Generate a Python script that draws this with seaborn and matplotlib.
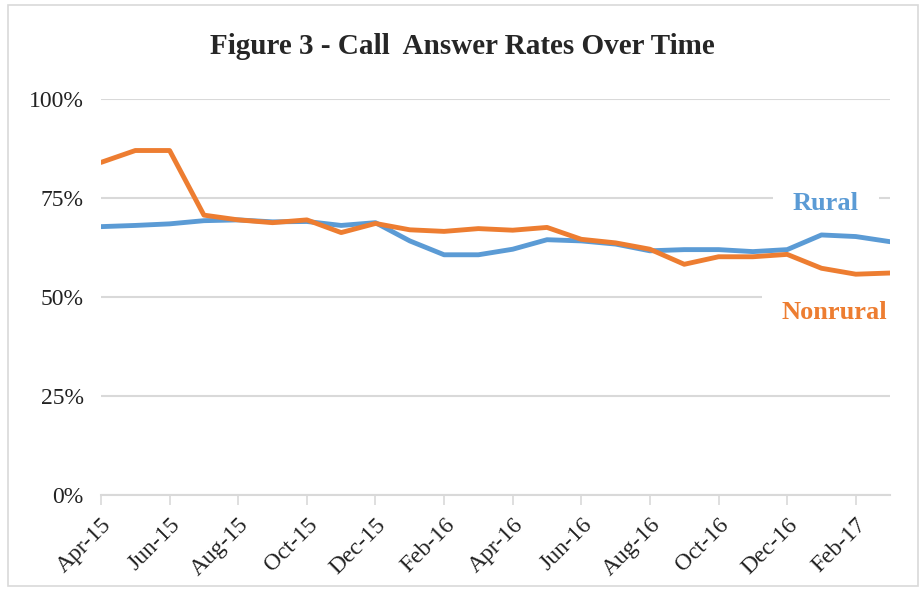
import numpy as np
import pandas as pd
import matplotlib
matplotlib.use("Agg")
import matplotlib.pyplot as plt
import seaborn as sns
from matplotlib.patches import Rectangle

months = ["Apr-15", "May-15", "Jun-15", "Jul-15", "Aug-15", "Sep-15", "Oct-15", "Nov-15",
          "Dec-15", "Jan-16", "Feb-16", "Mar-16", "Apr-16", "May-16", "Jun-16", "Jul-16",
          "Aug-16", "Sep-16", "Oct-16", "Nov-16", "Dec-16", "Jan-17", "Feb-17", "Mar-17"]
rural = [67.7, 68.0, 68.4, 69.2, 69.4, 68.9, 69.0, 68.0, 68.7, 64.1, 60.6, 60.6,
         62.0, 64.4, 64.1, 63.3, 61.6, 61.9, 61.9, 61.4, 61.9, 65.6, 65.2, 63.9]
nonrural = [83.9, 86.9, 86.9, 70.6, 69.4, 68.7, 69.4, 66.2, 68.5, 66.9, 66.5, 67.2,
            66.8, 67.5, 64.5, 63.6, 62.0, 58.2, 60.1, 60.1, 60.7, 57.2, 55.7, 56.0]
series_names = ["Rural", "Nonrural"]
colors = ["#5B9BD5", "#ED7D31"]
y_ticks = [0, 25, 50, 75, 100]

df = pd.DataFrame({
    "idx": list(range(len(months))) * 2,
    "rate": rural + nonrural,
    "group": ["Rural"] * len(months) + ["Nonrural"] * len(months),
})

sns.set_style("white")
plt.rcParams["font.family"] = ["Liberation Serif", "DejaVu Serif"]

fig = plt.figure(figsize=(9.24, 5.91), dpi=100)
ax = fig.add_axes([0.1093, 0.1624, 0.854, 0.6708])

sns.lineplot(data=df, x="idx", y="rate", hue="group", hue_order=series_names,
             palette=colors, linewidth=3.5, legend=False, ax=ax)

ax.set_xlim(0, len(months) - 1)
ax.set_ylim(0, 100)
ax.set_yticks(y_ticks)
ax.set_yticklabels([f"{v}%" for v in y_ticks], fontsize=17, color="#222222")
ax.set_xticks(list(range(0, len(months), 2)))
ax.set_xticklabels(months[::2], rotation=45, ha="right", rotation_mode="anchor",
                   fontsize=17, color="#222222")
ax.set_xlabel("")
ax.set_ylabel("")
ax.yaxis.grid(True, color="#d9d9d9", linewidth=1.5)
ax.set_axisbelow(True)
for s in ["top", "right", "left"]:
    ax.spines[s].set_visible(False)
ax.spines["bottom"].set_color("#d9d9d9")
ax.spines["bottom"].set_linewidth(1.5)
ax.tick_params(axis="x", bottom=True, length=7, width=1.2, color="#d9d9d9", pad=7)
ax.tick_params(axis="y", left=False, pad=9)

box = dict(boxstyle="square,pad=0.75", facecolor="white", edgecolor="none")
ax.text(20.17, 73.5, "Rural", color=colors[0], fontsize=19, fontweight="bold",
        va="center", ha="left", bbox=box, zorder=1)
ax.text(19.83, 46.0, "Nonrural", color=colors[1], fontsize=19, fontweight="bold",
        va="center", ha="left", bbox=box, zorder=1, clip_on=False)

fig.text(0.5, 1 - 46 / 591, "Figure 3 - Call  Answer Rates Over Time", ha="center",
         va="center", fontsize=21, fontweight="bold")

fig.patches.append(Rectangle((0.009, 0.008), 0.984, 0.984, transform=fig.transFigure,
                             fill=False, edgecolor="#d9d9d9", linewidth=1.2))

fig.savefig("out.png", dpi=100)
